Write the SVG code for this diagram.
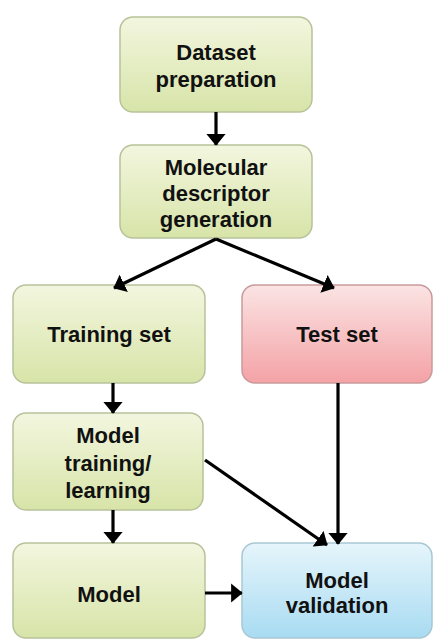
<svg xmlns="http://www.w3.org/2000/svg" width="433" height="640" viewBox="0 0 433 640">
<defs>
<linearGradient id="gG" x1="0" y1="0" x2="0" y2="1"><stop offset="0" stop-color="#f3f6df"/><stop offset="1" stop-color="#d7e4a8"/></linearGradient>
<linearGradient id="gR" x1="0" y1="0" x2="0" y2="1"><stop offset="0" stop-color="#fbe4e4"/><stop offset="1" stop-color="#f4a2a6"/></linearGradient>
<linearGradient id="gB" x1="0" y1="0" x2="0" y2="1"><stop offset="0" stop-color="#e6f5fb"/><stop offset="1" stop-color="#a8dbf2"/></linearGradient>
<marker id="ah" markerWidth="6" markerHeight="6" refX="3.4" refY="3" orient="auto" markerUnits="strokeWidth"><path d="M0,0 L3.6,3 L0,6 Z" fill="#000"/></marker>
<style>
.g{fill:url(#gG);stroke:#b8c29a;stroke-width:1.5}
.r{fill:url(#gR);stroke:#c99a9c;stroke-width:1.5}
.b{fill:url(#gB);stroke:#a8c7d4;stroke-width:1.5}
text{font-family:"Liberation Sans",Arial,sans-serif;font-weight:bold;font-size:22px;fill:#111;text-anchor:middle}
.c line{stroke:#000;stroke-width:3.2;marker-end:url(#ah)}
</style>
</defs>
<g id="n1"><rect class="g" x="120" y="17" width="192" height="95" rx="13"/><text x="216" y="60">Dataset</text><text x="216" y="87">preparation</text></g>
<g id="n2"><rect class="g" x="120" y="145" width="192" height="93" rx="13"/><text x="216" y="175">Molecular</text><text x="216" y="201">descriptor</text><text x="216" y="227">generation</text></g>
<g id="n3"><rect class="g" x="13" y="285" width="192" height="98" rx="13"/><text x="109" y="342">Training set</text></g>
<g id="n4"><rect class="r" x="242" y="285" width="190" height="98" rx="13"/><text x="337" y="342">Test set</text></g>
<g id="n5"><rect class="g" x="13" y="413" width="190" height="97" rx="13"/><text x="108" y="443">Model</text><text x="108" y="471">training/</text><text x="108" y="498">learning</text></g>
<g id="n6"><rect class="g" x="13" y="543" width="192" height="95" rx="13"/><text x="109" y="602">Model</text></g>
<g id="n7"><rect class="b" x="242" y="543" width="190" height="95" rx="13"/><text x="337" y="588">Model</text><text x="337" y="613">validation</text></g>
<g id="connectors" class="c">
<line x1="216" y1="112" x2="216" y2="145"/>
<line x1="216" y1="239" x2="114" y2="288"/>
<line x1="216" y1="239" x2="334" y2="288"/>
<line x1="113" y1="383" x2="113" y2="413"/>
<line x1="338" y1="383" x2="338" y2="544"/>
<line x1="205" y1="460" x2="327" y2="545"/>
<line x1="113" y1="510" x2="113" y2="543"/>
<line x1="205" y1="593" x2="242" y2="593"/>
</g>
</svg>
